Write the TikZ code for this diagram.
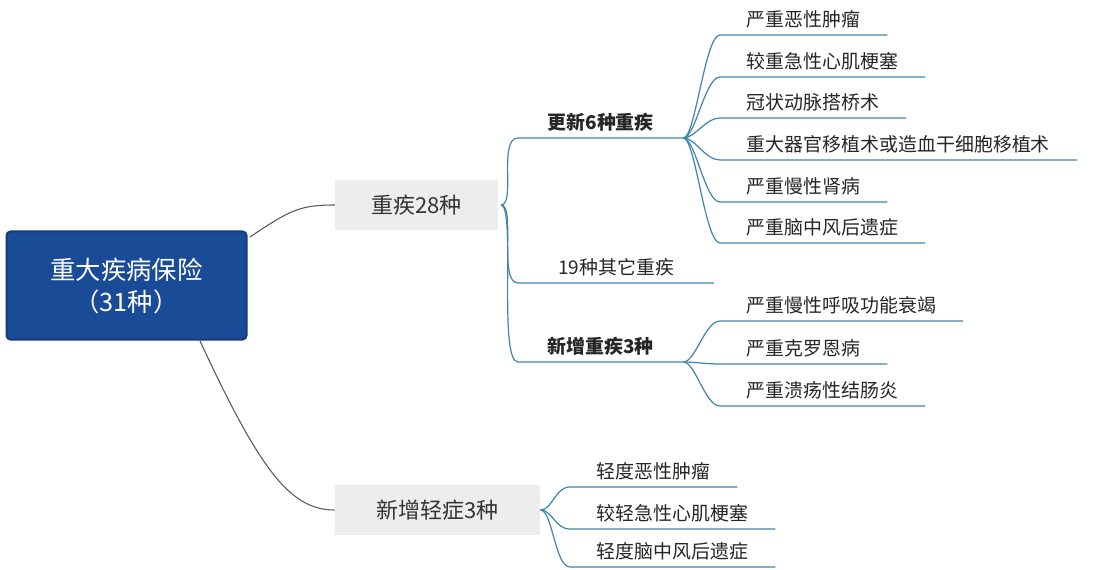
\documentclass[tikz,border=0pt]{standalone}
\usepackage{fontspec}
\setmainfont{Noto Sans CJK SC}
\begin{document}
\begin{tikzpicture}[x=0.75pt,y=-0.75pt,
  br/.style={draw=blueline,line width=0.9pt},
  rt/.style={draw=gray!70!black,line width=0.8pt},
  leaf/.style={anchor=south west,inner xsep=20pt,inner ysep=5pt,font=\fontsize{14.2}{16}\selectfont,text=black!85},
  mid/.style={anchor=south west,inner xsep=22pt,inner ysep=5pt,font=\bfseries\fontsize{14.2}{16}\selectfont,text=black!85}]
\definecolor{blueline}{HTML}{3F86A9}
\definecolor{rootblue}{HTML}{1A4B97}
\useasboundingbox[fill=white] (0,0) rectangle (1106,570);
% root
\node[draw=rootblue!80!black,fill=rootblue,rounded corners=3pt,line width=1.5pt,minimum width=180pt,minimum height=81pt,text=white,align=center,font=\fontsize{19}{24}\selectfont] (root) at (126.5,285.5) {重大疾病保险\\（31种）};
\node[fill=gray!14,minimum width=122pt,minimum height=38pt,font=\fontsize{16.5}{20}\selectfont,text=black!80] (zj) at (416.5,205) {重疾28种};
\node[fill=gray!14,minimum width=154pt,minimum height=38pt,font=\fontsize{16.5}{20}\selectfont,text=black!80] (xq) at (437.5,510) {新增轻症3种};
\draw[rt] (250,237) .. controls (290,210) and (300,205) .. (zj.west);
\draw[rt] (200,341) .. controls (260,470) and (290,510) .. (xq.west);
% mid level
\coordinate (zjr) at (501,205);
\node[mid] (g6) at (518,138) {更新6种重疾};
\node[leaf,inner xsep=30pt] (q19) at (518,283) {19种其它重疾};
\node[mid] (x3) at (518,362) {新增重疾3种};
\foreach \n in {g6,q19,x3}{
  \draw[br] (zjr) .. controls +(15,0) and +(-20,0) .. (\n.south west) -- (\n.south east);}
% leaves of g6
\coordinate (g6r) at (g6.south east);
\foreach \n/\y/\t in {a/35/严重恶性肿瘤,b/77/较重急性心肌梗塞,c/118/冠状动脉搭桥术,d/160/重大器官移植术或造血干细胞移植术,e/202/严重慢性肾病,f/243/严重脑中风后遗症}{
  \node[leaf] (l\n) at (720,\y) {\t};
  \draw[br] (g6r) .. controls +(12,0) and +(-15,0) .. (l\n.south west) -- (l\n.south east);}
% leaves of x3
\coordinate (x3r) at (x3.south east);
\foreach \n/\y/\t in {a/321/严重慢性呼吸功能衰竭,b/364/严重克罗恩病,c/406/严重溃疡性结肠炎}{
  \node[leaf] (m\n) at (720,\y) {\t};
  \draw[br] (x3r) .. controls +(12,0) and +(-15,0) .. (m\n.south west) -- (m\n.south east);}
% leaves of xq
\coordinate (xqr) at (xq.east);
\foreach \n/\y/\t in {a/487/轻度恶性肿瘤,b/529/较轻急性心肌梗塞,c/567/轻度脑中风后遗症}{
  \node[leaf] (k\n) at (570,\y) {\t};
  \draw[br] (xqr) .. controls +(12,0) and +(-15,0) .. (k\n.south west) -- (k\n.south east);}
\end{tikzpicture}
\end{document}
